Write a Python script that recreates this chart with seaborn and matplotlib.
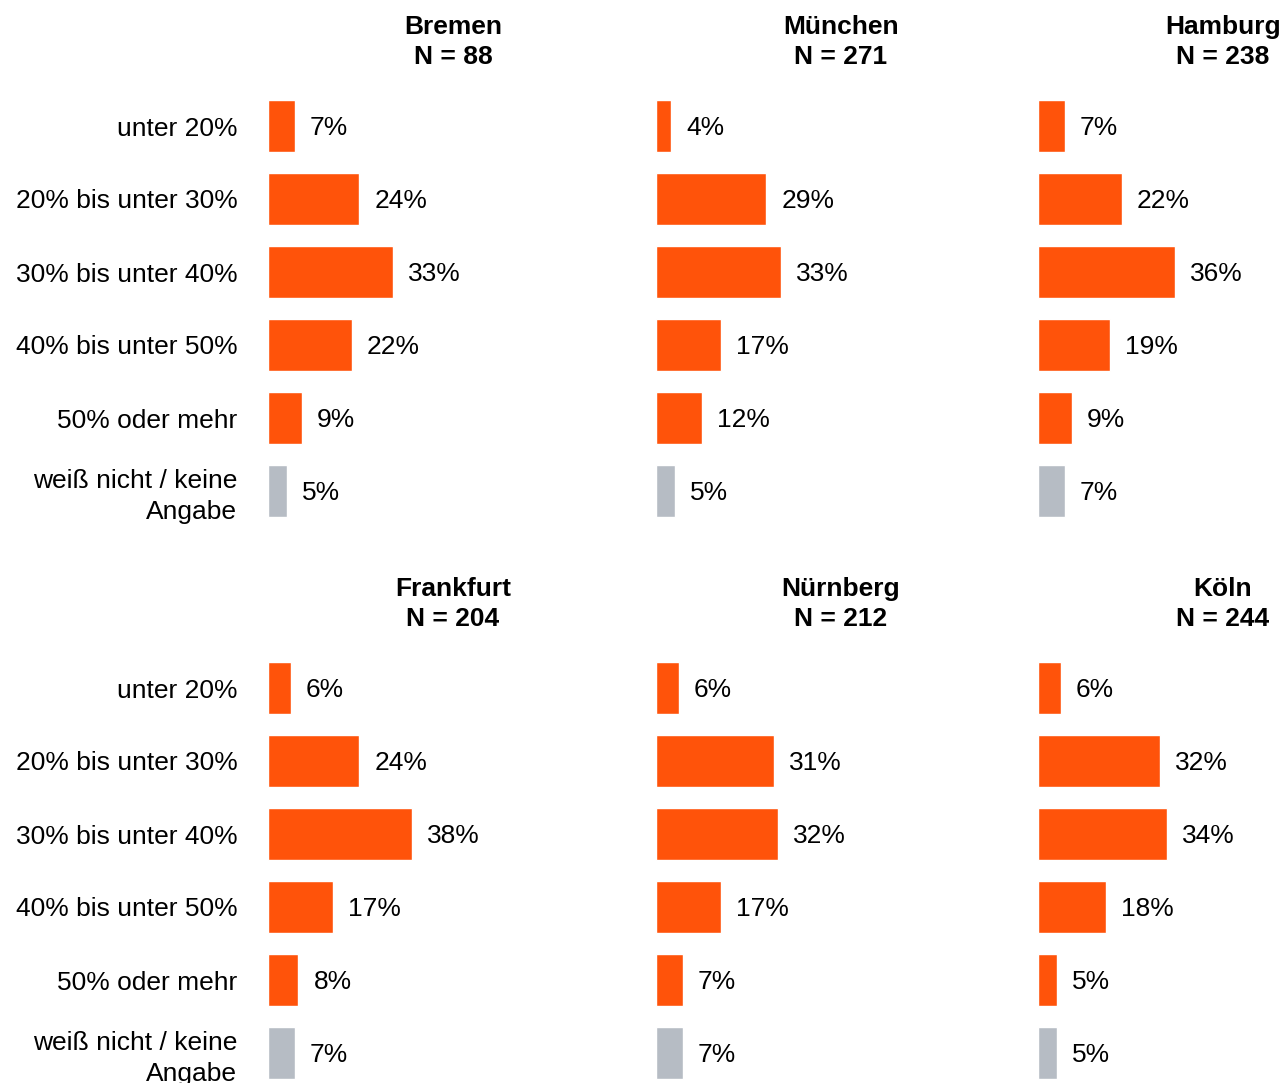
import matplotlib
matplotlib.use("Agg")
import matplotlib.pyplot as plt
import seaborn as sns
import pandas as pd

categories = ["unter 20%", "20% bis unter 30%", "30% bis unter 40%",
              "40% bis unter 50%", "50% oder mehr", "weiß nicht / keine\nAngabe"]
cities = ["Bremen", "München", "Hamburg", "Frankfurt", "Nürnberg", "Köln"]
sample_sizes = [88, 271, 238, 204, 212, 244]

bremen = [7, 24, 33, 22, 9, 5]
muenchen = [4, 29, 33, 17, 12, 5]
hamburg = [7, 22, 36, 19, 9, 7]
frankfurt = [6, 24, 38, 17, 8, 7]
nuernberg = [6, 31, 32, 17, 7, 7]
koeln = [6, 32, 34, 18, 5, 5]
city_values = [bremen, muenchen, hamburg, frankfurt, nuernberg, koeln]

ORANGE = "#FF530A"
GREY = "#B6BCC4"
bar_colors = [ORANGE] * 5 + [GREY]
FS = 19

sns.set_theme(style="white")
plt.rcParams["font.family"] = ["Liberation Sans", "DejaVu Sans"]
plt.rcParams["text.color"] = "black"
plt.rcParams["ytick.color"] = "black"

W, H = 1283, 1083
fig = plt.figure(figsize=(W / 100, H / 100), dpi=100)

# axes placement in pixels
lefts = [268, 656, 1038]
tops = [89.5, 651.5]
ax_w, ax_h = 370, 438
xmax = ax_w / 3.8

for i, (city, n, vals) in enumerate(zip(cities, sample_sizes, city_values)):
    row, col = divmod(i, 3)
    ax = fig.add_axes([lefts[col] / W, 1 - (tops[row] + ax_h) / H, ax_w / W, ax_h / H])
    df = pd.DataFrame({"cat": categories, "val": vals})
    sns.barplot(data=df, x="val", y="cat", hue="cat", palette=bar_colors,
                legend=False, width=0.71, ax=ax, saturation=1)
    ax.set_xlim(0, xmax)
    ax.set_ylim(5.5, -0.5)
    for j, v in enumerate(vals):
        ax.text(v + 15 / 3.8, j + 0.03, f"{v}%", va="center", ha="left", fontsize=FS)
    ax.set_title(f"{city}\nN = {n}", fontsize=FS, fontweight="bold",
                 pad=18, linespacing=1.35)
    ax.set_xlabel("")
    ax.set_ylabel("")
    ax.set_xticks([])
    if col == 0:
        ax.tick_params(axis="y", length=0, pad=22, labelsize=FS)
        for lbl in ax.get_yticklabels():
            lbl.set_horizontalalignment("right")
            lbl.set_multialignment("right")
            lbl.set_linespacing(1.35)
    else:
        ax.set_yticks([])
    sns.despine(ax=ax, left=True, bottom=True)

fig.savefig("out.png", dpi=100)
